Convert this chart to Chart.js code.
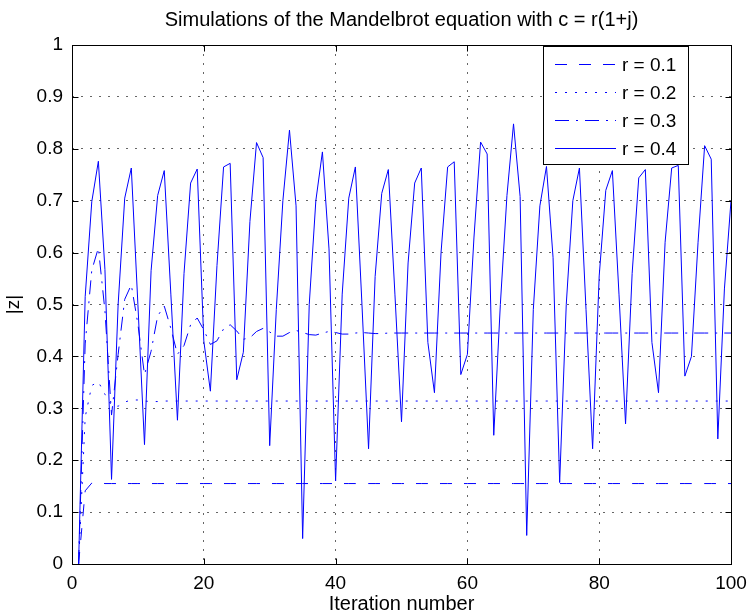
<!DOCTYPE html>
<html>
<head>
<meta charset="utf-8">
<script src="https://cdn.jsdelivr.net/npm/chart.js@4.4.0/dist/chart.umd.min.js"></script>
<style>
html,body{margin:0;padding:0;background:#fff;}
#wrap{width:749px;height:614px;}
</style>
</head>
<body>
<div id="wrap"><canvas id="c" width="749" height="614"></canvas></div>
<script>
const FONT = "'Liberation Sans', Arial, Helvetica, sans-serif";

const chartTitle = 'Simulations of the Mandelbrot equation with c = r(1+j)';
const xAxisTitle = 'Iteration number';
const yAxisTitle = '|z|';
const seriesLabels = ['r = 0.1', 'r = 0.2', 'r = 0.3', 'r = 0.4'];

const iterations = [
  1, 2, 3, 4, 5, 6, 7, 8, 9, 10,
  11, 12, 13, 14, 15, 16, 17, 18, 19, 20,
  21, 22, 23, 24, 25, 26, 27, 28, 29, 30,
  31, 32, 33, 34, 35, 36, 37, 38, 39, 40,
  41, 42, 43, 44, 45, 46, 47, 48, 49, 50,
  51, 52, 53, 54, 55, 56, 57, 58, 59, 60,
  61, 62, 63, 64, 65, 66, 67, 68, 69, 70,
  71, 72, 73, 74, 75, 76, 77, 78, 79, 80,
  81, 82, 83, 84, 85, 86, 87, 88, 89, 90,
  91, 92, 93, 94, 95, 96, 97, 98, 99, 100
];

const r01 = [
  0, 0.141, 0.156, 0.157, 0.155, 0.155, 0.155, 0.155, 0.155, 0.155,
  0.155, 0.155, 0.155, 0.155, 0.155, 0.155, 0.155, 0.155, 0.155, 0.155,
  0.155, 0.155, 0.155, 0.155, 0.155, 0.155, 0.155, 0.155, 0.155, 0.155,
  0.155, 0.155, 0.155, 0.155, 0.155, 0.155, 0.155, 0.155, 0.155, 0.155,
  0.155, 0.155, 0.155, 0.155, 0.155, 0.155, 0.155, 0.155, 0.155, 0.155,
  0.155, 0.155, 0.155, 0.155, 0.155, 0.155, 0.155, 0.155, 0.155, 0.155,
  0.155, 0.155, 0.155, 0.155, 0.155, 0.155, 0.155, 0.155, 0.155, 0.155,
  0.155, 0.155, 0.155, 0.155, 0.155, 0.155, 0.155, 0.155, 0.155, 0.155,
  0.155, 0.155, 0.155, 0.155, 0.155, 0.155, 0.155, 0.155, 0.155, 0.155,
  0.155, 0.155, 0.155, 0.155, 0.155, 0.155, 0.155, 0.155, 0.155, 0.155
];

const r02 = [
  0, 0.283, 0.344, 0.351, 0.327, 0.305, 0.304, 0.312, 0.316, 0.316,
  0.314, 0.313, 0.313, 0.314, 0.314, 0.314, 0.314, 0.314, 0.314, 0.314,
  0.314, 0.314, 0.314, 0.314, 0.314, 0.314, 0.314, 0.314, 0.314, 0.314,
  0.314, 0.314, 0.314, 0.314, 0.314, 0.314, 0.314, 0.314, 0.314, 0.314,
  0.314, 0.314, 0.314, 0.314, 0.314, 0.314, 0.314, 0.314, 0.314, 0.314,
  0.314, 0.314, 0.314, 0.314, 0.314, 0.314, 0.314, 0.314, 0.314, 0.314,
  0.314, 0.314, 0.314, 0.314, 0.314, 0.314, 0.314, 0.314, 0.314, 0.314,
  0.314, 0.314, 0.314, 0.314, 0.314, 0.314, 0.314, 0.314, 0.314, 0.314,
  0.314, 0.314, 0.314, 0.314, 0.314, 0.314, 0.314, 0.314, 0.314, 0.314,
  0.314, 0.314, 0.314, 0.314, 0.314, 0.314, 0.314, 0.314, 0.314, 0.314
];

const r03 = [
  0, 0.424, 0.566, 0.609, 0.488, 0.287, 0.404, 0.510, 0.538, 0.462,
  0.365, 0.410, 0.478, 0.497, 0.454, 0.404, 0.421, 0.461, 0.474, 0.451,
  0.423, 0.430, 0.453, 0.461, 0.449, 0.433, 0.436, 0.448, 0.454, 0.447,
  0.439, 0.439, 0.446, 0.450, 0.446, 0.442, 0.441, 0.445, 0.448, 0.446,
  0.443, 0.443, 0.445, 0.446, 0.445, 0.444, 0.444, 0.445, 0.445, 0.445,
  0.445, 0.445, 0.445, 0.445, 0.445, 0.445, 0.445, 0.445, 0.445, 0.445,
  0.445, 0.445, 0.445, 0.445, 0.445, 0.445, 0.445, 0.445, 0.445, 0.445,
  0.445, 0.445, 0.445, 0.445, 0.445, 0.445, 0.445, 0.445, 0.445, 0.445,
  0.445, 0.445, 0.445, 0.445, 0.445, 0.445, 0.445, 0.445, 0.445, 0.445,
  0.445, 0.445, 0.445, 0.445, 0.445, 0.445, 0.445, 0.445, 0.445, 0.445
];

const r04 = [
  0, 0.515, 0.698, 0.776, 0.567, 0.163, 0.50, 0.705, 0.763, 0.50,
  0.23, 0.565, 0.71, 0.758, 0.52, 0.277, 0.56, 0.734, 0.761, 0.43,
  0.333, 0.575, 0.765, 0.772, 0.355, 0.408, 0.66, 0.812, 0.783, 0.228,
  0.49, 0.70, 0.836, 0.69, 0.049, 0.50, 0.70, 0.794, 0.607, 0.16,
  0.52, 0.705, 0.765, 0.50, 0.222, 0.554, 0.714, 0.76, 0.52, 0.274,
  0.58, 0.734, 0.763, 0.427, 0.33, 0.60, 0.765, 0.775, 0.365, 0.404,
  0.63, 0.813, 0.79, 0.248, 0.50, 0.71, 0.848, 0.708, 0.055, 0.49,
  0.69, 0.766, 0.59, 0.157, 0.50, 0.70, 0.763, 0.49, 0.222, 0.555,
  0.72, 0.758, 0.52, 0.27, 0.56, 0.744, 0.76, 0.427, 0.33, 0.62,
  0.763, 0.768, 0.362, 0.40, 0.62, 0.806, 0.78, 0.241, 0.53, 0.70
];

const xTicks = [0, 20, 40, 60, 80, 100];
const yTicks = [0, 0.1, 0.2, 0.3, 0.4, 0.5, 0.6, 0.7, 0.8, 0.9, 1];

const seriesValues = [r01, r02, r03, r04];
const seriesDash = [[12, 12], [2, 8], [14, 7, 2, 7], []];

const toPoints = vals => vals.map((v, i) => ({ x: iterations[i], y: v }));

const frameAndLegend = {
  id: 'frameAndLegend',
  afterDatasetsDraw(chart) {
    const { ctx, chartArea: a, scales } = chart;
    const xs = scales.x, ys = scales.y;
    ctx.save();
    ctx.setLineDash([]);
    ctx.strokeStyle = '#000';
    ctx.lineWidth = 1;
    const L = 6;
    const left = Math.round(a.left) + 0.5, right = Math.round(a.right) + 0.5;
    const top = Math.round(a.top) + 0.5, bottom = Math.round(a.bottom) + 0.5;
    ctx.beginPath();
    xTicks.forEach(v => {
      const px = Math.round(xs.getPixelForValue(v)) + 0.5;
      ctx.moveTo(px, bottom); ctx.lineTo(px, bottom - L);
      ctx.moveTo(px, top); ctx.lineTo(px, top + L);
    });
    yTicks.forEach(v => {
      const py = Math.round(ys.getPixelForValue(v)) + 0.5;
      ctx.moveTo(left, py); ctx.lineTo(left + L, py);
      ctx.moveTo(right, py); ctx.lineTo(right - L, py);
    });
    ctx.stroke();
    ctx.strokeRect(left, top, right - left, bottom - top);

    // legend box
    const bx = Math.round(a.right) - 188, by = Math.round(a.top) + 1, bw = 145, bh = 118;
    ctx.fillStyle = '#fff';
    ctx.fillRect(bx, by, bw, bh);
    ctx.strokeRect(bx + 0.5, by + 0.5, bw, bh);
    ctx.font = '19px ' + FONT;
    ctx.textBaseline = 'middle';
    ctx.textAlign = 'left';
    chart.data.datasets.forEach((ds, i) => {
      const yy = Math.round(by + 17.5 + i * 28) + 0.5;
      ctx.beginPath();
      ctx.strokeStyle = ds.borderColor;
      ctx.lineWidth = ds.borderWidth;
      ctx.setLineDash(ds.borderDash || []);
      ctx.moveTo(bx + 12, yy);
      ctx.lineTo(bx + 73, yy);
      ctx.stroke();
      ctx.setLineDash([]);
      ctx.fillStyle = '#000';
      ctx.fillText(ds.label, bx + 79, yy + 1);
    });
    ctx.restore();
  }
};

Chart.defaults.font.family = FONT;
Chart.defaults.color = '#000';

new Chart(document.getElementById('c'), {
  type: 'line',
  data: {
    datasets: seriesLabels.map((lab, i) => ({
      label: lab,
      data: toPoints(seriesValues[i]),
      borderColor: '#0000ff',
      borderWidth: 1,
      borderDash: seriesDash[i],
      pointRadius: 0,
      tension: 0,
      fill: false
    }))
  },
  options: {
    responsive: false,
    animation: false,
    layout: { padding: { left: 0, right: 18, top: 0, bottom: 0 } },
    plugins: {
      legend: { display: false },
      tooltip: { enabled: false },
      title: {
        display: true,
        text: chartTitle,
        fullSize: false,
        color: '#000',
        font: { family: FONT, size: 20, weight: 'normal', lineHeight: 1.2 },
        padding: { top: 8, bottom: 13 }
      }
    },
    scales: {
      x: {
        type: 'linear',
        min: 0, max: 100,
        afterBuildTicks: s => { s.ticks = xTicks.map(v => ({ value: v })); },
        afterFit: s => { s.height = 50; s.paddingLeft = 0; s.paddingRight = 0; },
        ticks: { padding: 8, font: { size: 19 }, color: '#000', maxRotation: 0, autoSkip: false,
                 callback: v => String(v) },
        grid: { color: 'rgba(0,0,0,0.6)', lineWidth: 1, drawTicks: false },
        border: { display: false, dash: [2, 7] },
        title: { display: true, text: xAxisTitle, color: '#000',
                 font: { size: 20, lineHeight: 1.2 }, padding: { top: 0, bottom: -2 } }
      },
      y: {
        type: 'linear',
        min: 0, max: 1,
        afterBuildTicks: s => { s.ticks = yTicks.map(v => ({ value: v })); },
        afterFit: s => { s.width = 72; s.paddingTop = 0; s.paddingBottom = 0; },
        ticks: { padding: 9, font: { size: 19 }, color: '#000', autoSkip: false,
                 callback: v => String(v) },
        grid: { color: 'rgba(0,0,0,0.6)', lineWidth: 1, drawTicks: false },
        border: { display: false, dash: [2, 7] },
        title: { display: true, text: yAxisTitle, color: '#000',
                 font: { size: 19, lineHeight: 1.2 }, padding: { top: 2, bottom: 0 } }
      }
    }
  },
  plugins: [frameAndLegend]
});
</script>
</body>
</html>
